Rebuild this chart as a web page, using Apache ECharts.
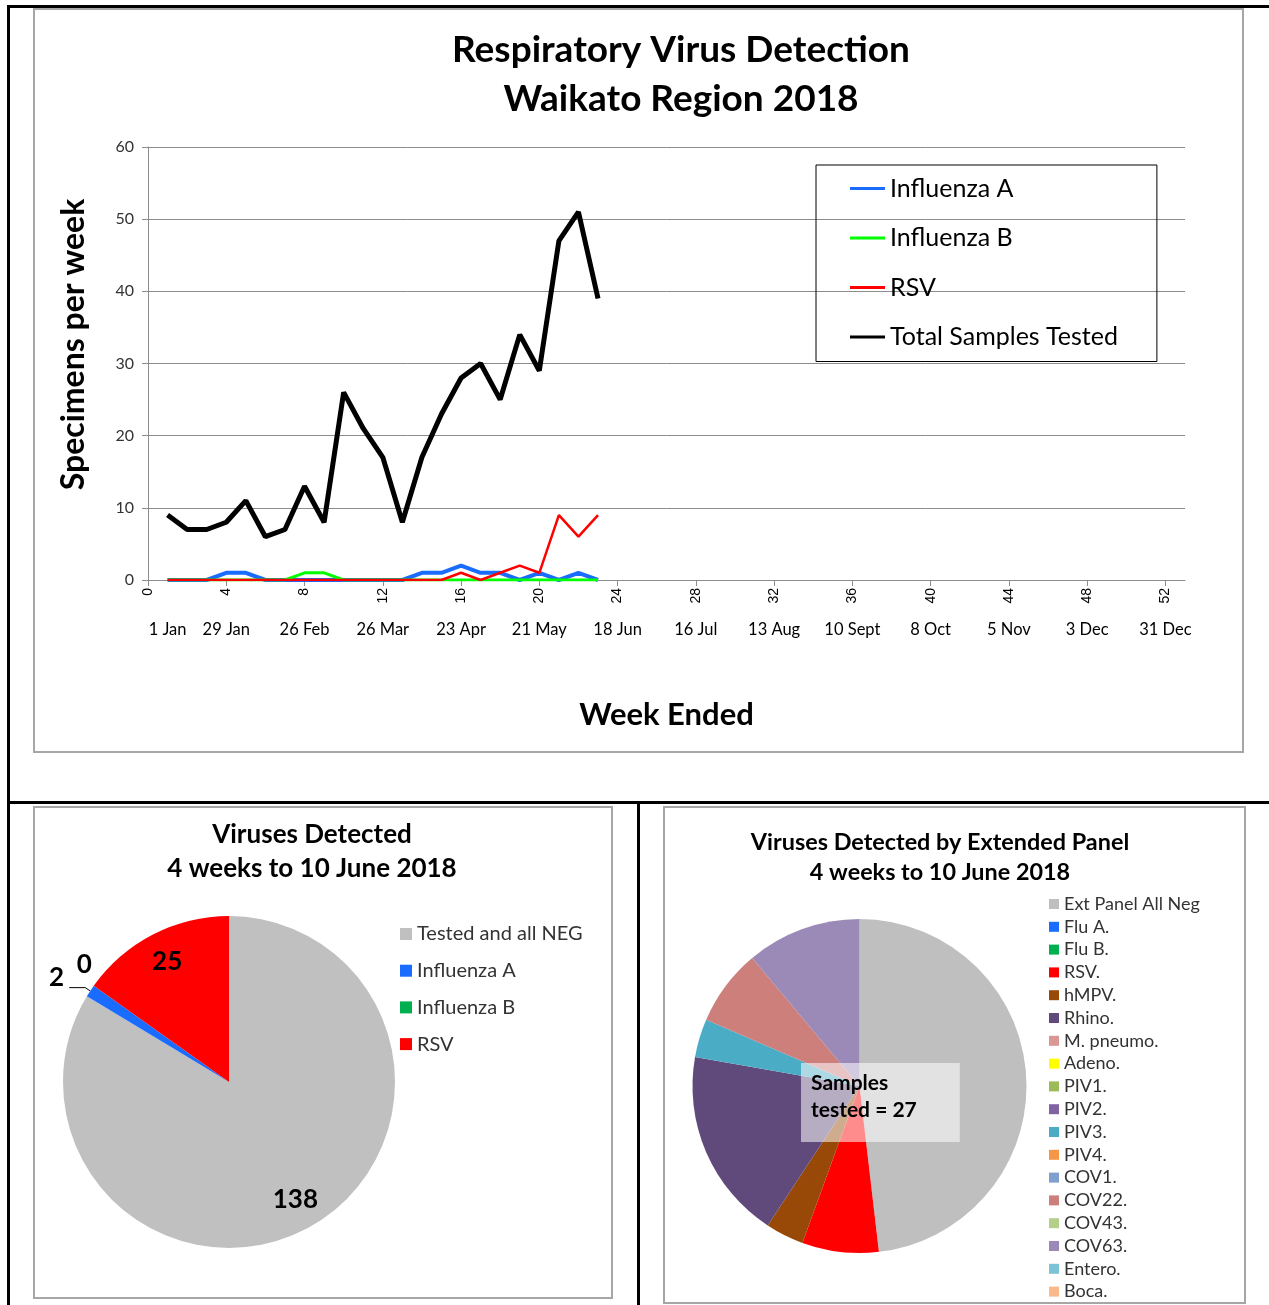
<!DOCTYPE html>
<html>
<head>
<meta charset="utf-8">
<script src="https://cdn.jsdelivr.net/npm/echarts@6.0.0/dist/echarts.min.js"></script>
<style>
body{margin:0;background:#fff;}
.frame{position:absolute;background:#000;}
.box{position:absolute;border:2px solid #a6a6a6;}
</style>
</head>
<body>
<div class="frame" style="left:7px;top:5px;width:1262px;height:3px"></div>
<div class="frame" style="left:7px;top:5px;width:3px;height:1300px"></div>
<div class="frame" style="left:7px;top:801px;width:1262px;height:3px"></div>
<div class="frame" style="left:637px;top:801px;width:3px;height:504px"></div>
<div class="box" style="left:33px;top:8px;"><div id="line_chart" style="width:1207px;height:741px"></div></div>
<div class="box" style="left:33px;top:806px;"><div id="pie_main" style="width:576px;height:489px"></div></div>
<div class="box" style="left:663px;top:806px;"><div id="pie_ext" style="width:579px;height:494px"></div></div>
<script>
// weekly counts, weeks 1..23 of 2018
var weeks = [1,2,3,4,5,6,7,8,9,10,11,12,13,14,15,16,17,18,19,20,21,22,23];
var fluA = [0,0,0,1,1,0,0,0,0,0,0,0,0,1,1,2,1,1,0,1,0,1,0];
var fluB = [0,0,0,0,0,0,0,1,1,0,0,0,0,0,0,0,0,0,0,0,0,0,0];
var rsv = [0,0,0,0,0,0,0,0,0,0,0,0,0,0,0,1,0,1,2,1,9,6,9];
var totalTested = [9,7,7,8,11,6,7,13,8,26,21,17,8,17,23,28,30,25,34,29,47,51,39];

var dateWeeks = [1,4,8,12,16,20,24,28,32,36,40,44,48,52];
var dateLabels = ['1 Jan','29 Jan','26 Feb','26 Mar','23 Apr','21 May','18 Jun','16 Jul','13 Aug','10 Sept','8 Oct','5 Nov','3 Dec','31 Dec'];

// 4 weeks to 10 June
var mainNames = ['Tested and all NEG','Influenza A','Influenza B','RSV'];
var mainValues = [138,2,0,25];
var mainColors = ['#c0c0c0','#1a6cff','#00b050','#ff0000'];

var extNames = ['Ext Panel All Neg','Flu A.','Flu B.','RSV.','hMPV.','Rhino.','M. pneumo.','Adeno.','PIV1.','PIV2.','PIV3.','PIV4.','COV1.','COV22.','COV43.','COV63.','Entero.','Boca.'];
var extValues = [13,0,0,2,1,5,0,0,0,0,1,0,0,2,0,3,0,0];
var extColors = ['#bfbfbf','#1a6cff','#00b050','#ff0000','#984807','#604a7b','#d99694','#ffff00','#9bbb59','#8064a2','#4bacc6','#f79646','#7f9fcf','#cd7f7c','#b3cf8a','#9b89b7','#7dc3d8','#fab98a'];

var FONT = 'Lato';

function pairs(ys){
    return weeks.map(function(w, i){ return [w, ys[i]]; });
}

var lineChart = echarts.init(document.getElementById('line_chart'));
lineChart.setOption({
    animation: false,
    title: {
        text: 'Respiratory Virus Detection\nWaikato Region 2018',
        left: 641, top: 11, textAlign: 'center',
        textStyle: {fontFamily: FONT, fontWeight: 'bold', fontSize: 37, lineHeight: 49, color: '#000'}
    },
    legend: {
        orient: 'vertical', left: 781, top: 155,
        padding: [11, 39, 12, 34],
        borderColor: '#000', borderWidth: 1,
        icon: 'rect', itemWidth: 35, itemHeight: 3, itemGap: 24.5,
        textStyle: {fontFamily: FONT, fontSize: 25, color: '#000'},
        data: ['Influenza A','Influenza B','RSV','Total Samples Tested']
    },
    grid: {left: 113, right: 57, top: 137, bottom: 171},
    xAxis: [{
        type: 'value', min: 0, max: 53, interval: 4,
        axisLine: {lineStyle: {color: '#8c8c8c'}},
        axisTick: {length: 6, lineStyle: {color: '#8c8c8c'}},
        splitLine: {show: false},
        axisLabel: {rotate: 90, margin: 8, fontFamily: 'Liberation Sans', fontSize: 14, color: '#000',
            showMaxLabel: false,
            formatter: function(v){ return v % 4 === 0 ? String(v) : ''; }},
        name: 'Week Ended', nameLocation: 'middle', nameGap: 119,
        nameTextStyle: {fontFamily: FONT, fontWeight: 'bold', fontSize: 31, color: '#000'}
    }, {
        type: 'value', min: 0, max: 53, interval: 1, position: 'bottom',
        axisLine: {show: false}, axisTick: {show: false}, splitLine: {show: false},
        axisLabel: {margin: 41, fontFamily: FONT, fontSize: 16.5, color: '#000',
            showMinLabel: true, showMaxLabel: true,
            formatter: function(v){
                var i = dateWeeks.indexOf(v);
                return i < 0 ? '' : dateLabels[i];
            }}
    }],
    yAxis: {
        type: 'value', min: 0, max: 60, interval: 10,
        axisLine: {show: true, lineStyle: {color: '#8c8c8c'}},
        axisTick: {show: true, length: 6, lineStyle: {color: '#8c8c8c'}},
        splitLine: {lineStyle: {color: '#8c8c8c'}},
        axisLabel: {fontFamily: FONT, fontSize: 16, color: '#333', margin: 14},
        name: 'Specimens per week', nameLocation: 'middle', nameGap: 58,
        nameTextStyle: {fontFamily: FONT, fontWeight: 'bold', fontSize: 32, color: '#000', padding: [0, 0, 0, 38]}
    },
    series: [
        {name: 'Influenza A', type: 'line', symbol: 'none', data: pairs(fluA), color: '#1a6cff', lineStyle: {width: 4}},
        {name: 'Influenza B', type: 'line', symbol: 'none', data: pairs(fluB), color: '#00ff00', lineStyle: {width: 3}},
        {name: 'RSV', type: 'line', symbol: 'none', data: pairs(rsv), color: '#ff0000', lineStyle: {width: 2.5}},
        {name: 'Total Samples Tested', type: 'line', symbol: 'none', data: pairs(totalTested), color: '#000', lineStyle: {width: 5}}
    ]
});

var pieMain = echarts.init(document.getElementById('pie_main'));
var mainData = mainNames.map(function(n, i){
    return {name: n, value: mainValues[i], itemStyle: {color: mainColors[i]}};
});
var mainLabels = mainNames.map(function(n, i){
    var small = mainValues[i] < 5;
    return {name: n, value: mainValues[i],
        label: {position: small ? 'outside' : 'inside'},
        labelLine: {show: small && mainValues[i] > 0}};
});
pieMain.setOption({
    animation: false,
    title: {
        text: 'Viruses Detected\n4 weeks to 10 June 2018',
        left: 272, top: 5, textAlign: 'center',
        textStyle: {fontFamily: FONT, fontWeight: 'bold', fontSize: 26, lineHeight: 34, color: '#000'}
    },
    legend: {
        orient: 'vertical', left: 365, top: 116, padding: 0,
        icon: 'rect', itemWidth: 12, itemHeight: 12, itemGap: 16.7,
        textStyle: {fontFamily: FONT, fontSize: 20, color: '#333'},
        data: mainNames
    },
    series: [{
        type: 'pie', center: [194, 274], radius: [0, 166], startAngle: 90,
        label: {show: false}, labelLine: {show: false},
        itemStyle: {borderWidth: 0},
        data: mainData
    }, {
        type: 'pie', center: [194, 274], radius: [98, 166], startAngle: 90,
        silent: true, legendHoverLink: false, avoidLabelOverlap: false,
        itemStyle: {color: 'transparent', borderWidth: 0},
        label: {show: true, formatter: '{c}', fontFamily: FONT, fontWeight: 'bold', fontSize: 26, color: '#000'},
        labelLine: {length: 6, length2: 16, lineStyle: {color: '#000', width: 1}},
        labelLayout: function(p){
            if (p.dataIndex === 1) return {dy: -10};
            if (p.dataIndex === 2) return {dx: 24, dy: -18};
        },
        data: mainLabels
    }]
});

var pieExt = echarts.init(document.getElementById('pie_ext'));
pieExt.setOption({
    animation: false,
    title: [{
        text: 'Viruses Detected by Extended Panel\n4 weeks to 10 June 2018',
        left: 270, top: 14, textAlign: 'center',
        textStyle: {fontFamily: FONT, fontWeight: 'bold', fontSize: 23.4, lineHeight: 30, color: '#000'}
    }, {
        text: 'Samples\ntested = 27',
        left: 136, top: 255, padding: [7, 43, 18, 10],
        backgroundColor: 'rgba(255,255,255,0.55)',
        textStyle: {fontFamily: FONT, fontWeight: 'bold', fontSize: 21, lineHeight: 27, color: '#000'}
    }],
    legend: {
        orient: 'vertical', left: 384, top: 87, padding: 0,
        icon: 'rect', itemWidth: 10, itemHeight: 10, itemGap: 4.8,
        textStyle: {fontFamily: FONT, fontSize: 18, color: '#333', lineHeight: 18},
        data: extNames
    },
    series: [{
        type: 'pie', center: [194.5, 278], radius: [0, 167], startAngle: 90,
        label: {show: false}, labelLine: {show: false},
        itemStyle: {borderWidth: 0},
        data: extNames.map(function(n, i){
            return {name: n, value: extValues[i], itemStyle: {color: extColors[i]}};
        })
    }]
});
</script>
</body>
</html>
